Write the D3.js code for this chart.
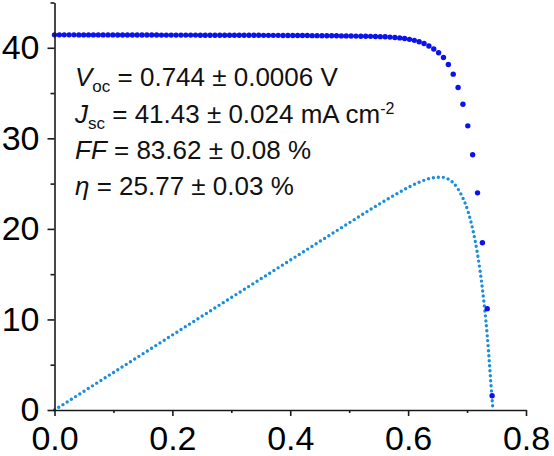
<!DOCTYPE html>
<html><head><meta charset="utf-8">
<script src="https://cdn.jsdelivr.net/npm/d3@7"></script>
<style>
html,body{margin:0;padding:0;background:#fff;}
svg{display:block;font-family:"Liberation Sans",Arial,sans-serif;}
</style></head>
<body><svg id="chart" width="554" height="456"></svg>
<script>
// J-V scan voltages (V)
const voltage = [0,0.00825,0.0165,0.02475,0.033,0.04125,0.0495,0.05775,0.066,0.07425,
0.0825,0.09075,0.099,0.10725,0.1155,0.12375,0.132,0.14025,0.1485,0.15675,
0.165,0.17325,0.1815,0.18975,0.198,0.20625,0.2145,0.22275,0.231,0.23925,
0.2475,0.25575,0.264,0.27225,0.2805,0.28875,0.297,0.30525,0.3135,0.32175,
0.33,0.33825,0.3465,0.35475,0.363,0.37125,0.3795,0.38775,0.396,0.40425,
0.4125,0.42075,0.429,0.43725,0.4455,0.45375,0.462,0.47025,0.4785,0.48675,
0.495,0.50325,0.5115,0.51975,0.528,0.53625,0.5445,0.55275,0.561,0.56925,
0.5775,0.58575,0.594,0.60225,0.6105,0.61875,0.627,0.63525,0.6435,0.65175,
0.66,0.66825,0.6765,0.68475,0.693,0.70125,0.7095,0.71775,0.726,0.73425,0.7425];
// Current density (mA cm-2)
const current = [41.43,41.43,41.43,41.43,41.43,41.42,41.42,41.42,41.42,41.42,
41.42,41.42,41.42,41.41,41.41,41.41,41.41,41.41,41.41,41.41,
41.41,41.41,41.40,41.40,41.40,41.40,41.40,41.40,41.40,41.40,
41.39,41.39,41.39,41.39,41.39,41.39,41.39,41.38,41.38,41.38,
41.38,41.38,41.38,41.37,41.37,41.37,41.37,41.36,41.36,41.36,
41.35,41.35,41.35,41.34,41.34,41.33,41.33,41.32,41.32,41.31,
41.31,41.30,41.29,41.28,41.27,41.26,41.25,41.23,41.21,41.18,
41.14,41.09,41.02,40.93,40.82,40.67,40.47,40.20,39.86,39.45,
38.93,38.16,37.09,35.62,33.77,31.38,28.18,23.98,18.47,11.19,1.58];
// Power density curve (mW cm-2)
const powerV = [0,0.05,0.1,0.15,0.2,0.25,0.3,0.35,0.4,0.45,0.5,0.55,0.5775,0.60225,0.61875,
0.63525,0.6435,0.65175,0.66,0.66825,0.6765,0.68475,0.693,0.70125,0.7095,0.71775,0.726,0.73425,0.7425,0.744];
const powerP = [0,2.07,4.14,6.21,8.28,10.35,12.42,14.48,16.55,18.61,20.67,22.70,23.76,24.65,25.16,
25.54,25.65,25.71,25.69,25.50,25.09,24.39,23.40,22.01,19.99,17.21,13.41,8.22,1.17,0];
const xTicks = [0,0.2,0.4,0.6,0.8];
const xMinor = [0.1,0.3,0.5,0.7];
const yTicks = [0,10,20,30,40];
const yMinor = [5,15,25,35,45];
const annot = [
  [{t:"V",i:1},{t:"oc",s:"sub"},{t:" = 0.744 ± 0.0006 V"}],
  [{t:"J",i:1},{t:"sc",s:"sub"},{t:" = 41.43 ± 0.024 mA cm"},{t:"-2",s:"sup"}],
  [{t:"FF",i:1},{t:" = 83.62 ± 0.08 %"}],
  [{t:"η",i:1},{t:" = 25.77 ± 0.03 %"}]
];

const svg = d3.select("#chart");
const x = d3.scaleLinear().domain([0,0.8]).range([54.5,526]);
const y = d3.scaleLinear().domain([0,45]).range([410,2.5]);

// power dotted line
const line = d3.line().x((d,i)=>x(powerV[i])).y(d=>y(d)).curve(d3.curveMonotoneX);
svg.append("path").attr("d", line(powerP))
  .attr("fill","none").attr("stroke","#1a8ddb").attr("stroke-width",3.4)
  .attr("stroke-linecap","round").attr("stroke-dasharray","0,5");

// J-V dots
svg.append("g").selectAll("circle").data(current).join("circle")
  .attr("cx",(d,i)=>x(voltage[i])).attr("cy",d=>y(d)).attr("r",2.7)
  .attr("fill","#0a12ee");

// axes
const axisColor = "#1a1a1a";
const gx = svg.append("g").attr("transform","translate(0,410)")
  .call(d3.axisBottom(x).tickValues(xTicks).tickFormat(d3.format(".1f")).tickSize(6).tickSizeOuter(0).tickPadding(10));
const gxm = svg.append("g").attr("transform","translate(0,410)")
  .call(d3.axisBottom(x).tickValues(xMinor).tickFormat("").tickSize(3).tickSizeOuter(0));
const gy = svg.append("g").attr("transform","translate(54.5,0)")
  .call(d3.axisLeft(y).tickValues(yTicks).tickSize(7).tickSizeOuter(0).tickPadding(8));
const gym = svg.append("g").attr("transform","translate(54.5,0)")
  .call(d3.axisLeft(y).tickValues(yMinor).tickFormat("").tickSize(4).tickSizeOuter(0));
[gx,gxm,gy,gym].forEach(g=>{
  g.selectAll("path,line").attr("stroke",axisColor).attr("stroke-width",1.6);
  g.selectAll("text").attr("fill","#000").style("font-family",'"Liberation Sans",Arial,sans-serif').style("font-size","34px");
});
gxm.select(".domain").remove(); gym.select(".domain").remove();

// annotation
const baselines = [86,122.5,158.5,195];
annot.forEach((parts,k)=>{
  const t = svg.append("text").attr("x",75).attr("y",baselines[k])
    .style("font-size","26px").attr("fill","#111");
  let shift = 0;
  parts.forEach(p=>{
    const ts = t.append("tspan").text(p.t);
    if(p.i) ts.style("font-style","italic");
    let target = 0;
    if(p.s==="sub"){ ts.style("font-size","17px"); target = 6; }
    if(p.s==="sup"){ ts.style("font-size","16px"); target = -9; }
    ts.attr("dy", target - shift); shift = target;
  });
});
</script></body></html>
